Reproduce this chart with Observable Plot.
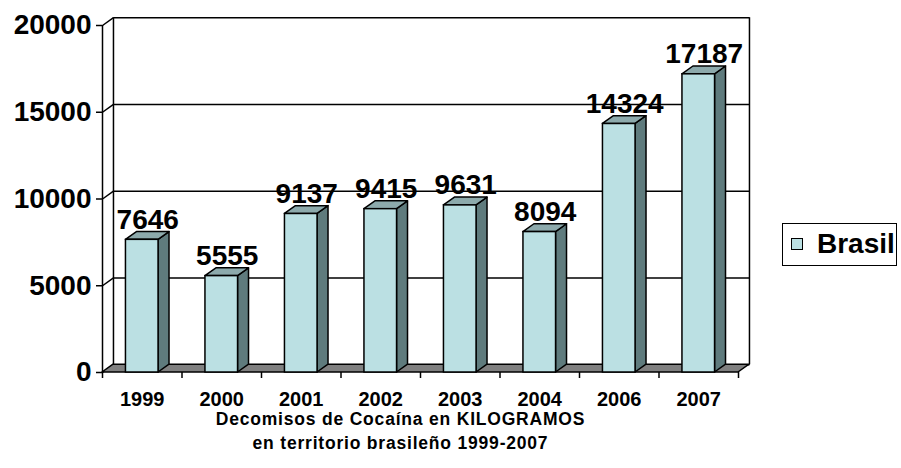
<!DOCTYPE html>
<html>
<head>
<meta charset="utf-8">
<script src="https://cdn.jsdelivr.net/npm/d3@7"></script>
<script src="https://cdn.jsdelivr.net/npm/@observablehq/plot@0.6"></script>
<style>
  html, body { margin: 0; padding: 0; background: #fff; color: #000; }
  #wrap { position: relative; width: 901px; height: 468px; font-family: "Liberation Sans", Arial, sans-serif; font-weight: bold; }
  #chart svg { display: block; overflow: visible; }
  .title { position: absolute; left: 0; width: 801px; text-align: center; font-size: 17.5px; line-height: 14px; letter-spacing: 0.8px; white-space: nowrap; }
  #legend { position: absolute; left: 782px; top: 223px; width: 115px; height: 43px; border: 1.5px solid #000; box-sizing: border-box; }
  #legend .sw { position: absolute; left: 8px; top: 14px; width: 12px; height: 12px; background: #BBE0E3; border: 1.2px solid #000; box-sizing: border-box; }
  #legend .lb { position: absolute; left: 34px; top: 6px; font-size: 28px; line-height: 28px; white-space: nowrap; }
</style>
</head>
<body>
<div id="wrap">
  <div id="chart"></div>
  <div class="title" style="top:411.5px">Decomisos de Cocaína en KILOGRAMOS</div>
  <div class="title" style="top:435.5px">en territorio brasileño 1999-2007</div>
  <div id="legend"><div class="sw"></div><div class="lb">Brasil</div></div>
</div>
<script>
// ---- data ----
const years = ["1999", "2000", "2001", "2002", "2003", "2004", "2006", "2007"];
const values = [7646, 5555, 9137, 9415, 9631, 8094, 14324, 17187];
const yTicks = [0, 5000, 10000, 15000, 20000];
const seriesName = "Brasil";

// ---- geometry of the pseudo-3D look (in scale units) ----
const W = 0.41;      // bar width (category units)
const DD = 0.138;    // depth offset in x (category units)
const DV = 450;      // depth offset in y (value units)
const X0 = -0.5, X1 = years.length - 0.5;

const idx = years.map((_, i) => i);
const bars = idx.map(i => ({i, year: years[i], v: values[i]}));
const sides = bars.flatMap(b => [
  {k: b.i, x: b.i + W / 2, y1: 0, y2: b.v},
  {k: b.i, x: b.i + W / 2 + DD, y1: DV, y2: b.v + DV}
]);
const tops = bars.flatMap(b => [
  {k: b.i, y: b.v, x1: b.i - W / 2, x2: b.i + W / 2},
  {k: b.i, y: b.v + DV, x1: b.i - W / 2 + DD, x2: b.i + W / 2 + DD}
]);
const floor = [
  {y: 0, x1: X0, x2: X1},
  {y: DV, x1: X0 + DD, x2: X1 + DD}
];
const bounds = d3.range(years.length + 1).map(j => j - 0.5);

const C_FRONT = "#BBE0E3", C_SIDE = "#5F7B7D", C_TOP = "#8DAAAC", C_FLOOR = "#808080";
const SW = 1.5;

const chart = Plot.plot({
  width: 901,
  height: 468,
  marginLeft: 102,
  marginRight: 163,
  marginTop: 25,
  marginBottom: 96,
  style: {fontFamily: "Liberation Sans, Arial, sans-serif", fontWeight: "bold", color: "#000", background: "#fff", overflow: "visible"},
  x: {type: "linear", domain: [X0, X1]},
  y: {type: "linear", domain: [0, 20000]},
  marks: [
    Plot.link(yTicks, {x1: X0 + DD, x2: X1 + DD, y1: d => d + DV, y2: d => d + DV, stroke: "#000", strokeWidth: SW}),
    Plot.link(yTicks, {x1: X0, y1: d => d, x2: X0 + DD, y2: d => d + DV, stroke: "#000", strokeWidth: SW}),
    Plot.ruleX([X0 + DD, X1 + DD], {y1: DV, y2: 20000 + DV, stroke: "#000", strokeWidth: SW}),
    Plot.areaX(floor, {y: "y", x1: "x1", x2: "x2", fill: C_FLOOR, stroke: "#000", strokeWidth: SW}),
    Plot.areaY(sides, {x: "x", y1: "y1", y2: "y2", z: "k", fill: C_SIDE, stroke: "#000", strokeWidth: SW}),
    Plot.areaX(tops, {y: "y", x1: "x1", x2: "x2", z: "k", fill: C_TOP, stroke: "#000", strokeWidth: SW}),
    Plot.rect(bars, {x1: d => d.i - W / 2, x2: d => d.i + W / 2, y1: 0, y2: "v", fill: C_FRONT, stroke: "#000", strokeWidth: SW}),
    Plot.ruleX([X0], {y1: 0, y2: 20000, stroke: "#000", strokeWidth: SW}),
    Plot.ruleX(bounds, {y1: 0, y2: 0, insetBottom: -6, stroke: "#000", strokeWidth: SW}),
    Plot.text(bars, {x: d => d.i + DD / 2, y: "v", text: d => String(d.v), dy: -20, fontSize: 28, fontWeight: "bold", fill: "#000"}),
    Plot.axisY(yTicks, {tickSize: 6, tickPadding: 5, tickFormat: d => String(d), fontSize: 28, fontWeight: "bold", strokeWidth: SW, label: null}),
    Plot.axisX(idx, {tickSize: 0, tickPadding: 19, tickFormat: i => years[i], fontSize: 20, fontWeight: "bold", label: null})
  ]
});
document.getElementById("chart").appendChild(chart);
</script>
</body>
</html>
